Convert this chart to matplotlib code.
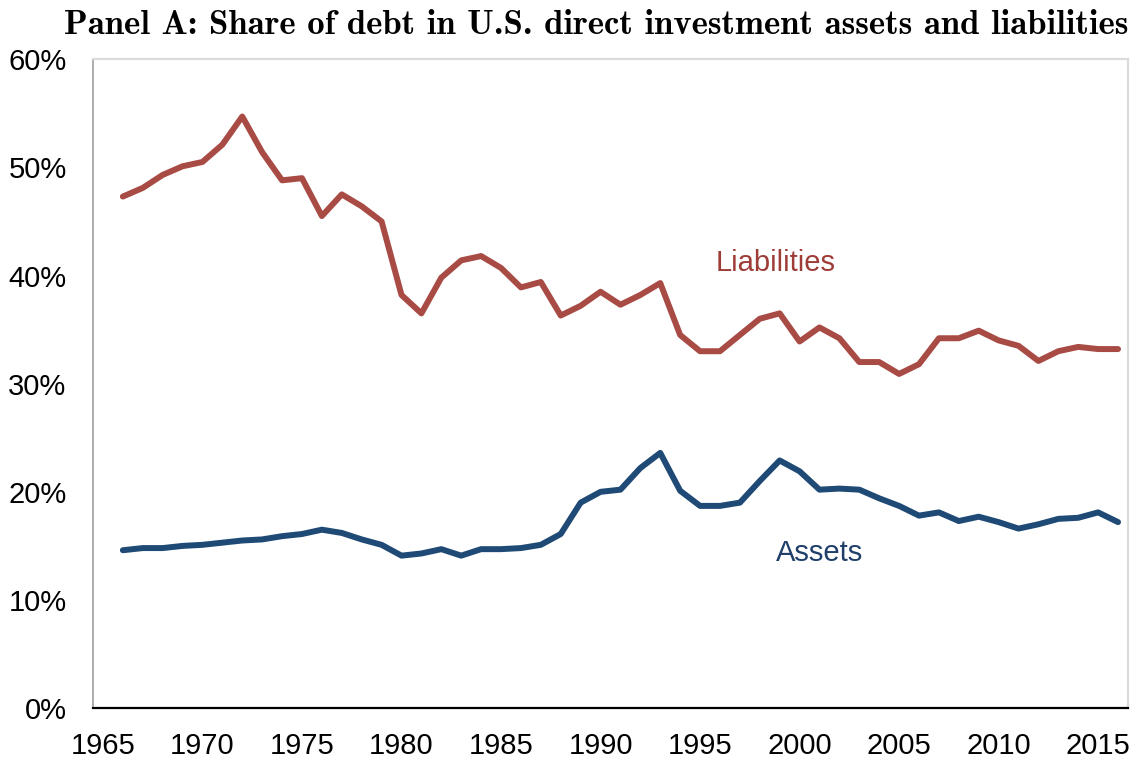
import matplotlib
matplotlib.use("Agg")
import matplotlib.pyplot as plt
from matplotlib.ticker import FuncFormatter

years = list(range(1966, 2017))

# share of debt, percent
liabilities = [47.3, 48.1, 49.3, 50.1, 50.5, 52.1, 54.7, 51.4, 48.8, 49.0,
               45.5, 47.5, 46.4, 45.0, 38.2, 36.5, 39.8, 41.4, 41.8, 40.7,
               38.9, 39.4, 36.3, 37.2, 38.5, 37.3, 38.2, 39.3, 34.5, 33.0,
               33.0, 34.5, 36.0, 36.5, 33.9, 35.2, 34.2, 32.0, 32.0, 30.9,
               31.8, 34.2, 34.2, 34.9, 34.0, 33.5, 32.1, 33.0, 33.4, 33.2,
               33.2]
assets = [14.6, 14.8, 14.8, 15.0, 15.1, 15.3, 15.5, 15.6, 15.9, 16.1,
          16.5, 16.2, 15.6, 15.1, 14.1, 14.3, 14.7, 14.1, 14.7, 14.7,
          14.8, 15.1, 16.1, 19.0, 20.0, 20.2, 22.2, 23.6, 20.1, 18.7,
          18.7, 19.0, 21.0, 22.9, 21.9, 20.2, 20.3, 20.2, 19.4, 18.7,
          17.8, 18.1, 17.3, 17.7, 17.2, 16.6, 17.0, 17.5, 17.6, 18.1,
          17.2]

x_ticks = [1965, 1970, 1975, 1980, 1985, 1990, 1995, 2000, 2005, 2010, 2015]
y_ticks = [0, 10, 20, 30, 40, 50, 60]

RED = "#A84B45"
BLUE = "#1F4A75"

fig = plt.figure(figsize=(11.34, 7.59), dpi=100)
ax = fig.add_axes([0.082, 0.067, 0.9127, 0.855])

ax.plot(years, liabilities, color=RED, linewidth=4.3, solid_capstyle="round",
        solid_joinstyle="round")
ax.plot(years, assets, color=BLUE, linewidth=4.3, solid_capstyle="round",
        solid_joinstyle="round")

ax.text(1998.8, 41.15, "Liabilities", color="#9E3D38", fontsize=21,
        family="Liberation Sans", ha="center", va="center")
ax.text(2001.0, 14.3, "Assets", color="#1F3F6A", fontsize=21,
        family="Liberation Sans", ha="center", va="center")

ax.set_xlim(1964.5, 2016.5)
ax.set_ylim(0, 60)
ax.set_xticks(x_ticks)
ax.set_yticks(y_ticks)
ax.yaxis.set_major_formatter(FuncFormatter(lambda v, p: f"{v:.0f}%"))
for lab in ax.get_xticklabels() + ax.get_yticklabels():
    lab.set_family("Liberation Sans")
    lab.set_fontsize(21)
ax.tick_params(axis="both", length=0)
ax.tick_params(axis="y", pad=19)
ax.tick_params(axis="x", pad=17)

ax.spines["left"].set_color("#A0A0A0")
ax.spines["left"].set_linewidth(1.2)
ax.spines["bottom"].set_color("black")
ax.spines["bottom"].set_linewidth(1.6)
ax.spines["top"].set_color("#DCDCDC")
ax.spines["right"].set_color("#DCDCDC")
ax.spines["top"].set_linewidth(1.6)
ax.spines["right"].set_linewidth(1.6)

fig.text(0.526, 0.966, "Panel A: Share of debt in U.S. direct investment assets and liabilities",
         family="cmb10", fontsize=25, ha="center", va="center")

fig.savefig("out.png", dpi=100)
